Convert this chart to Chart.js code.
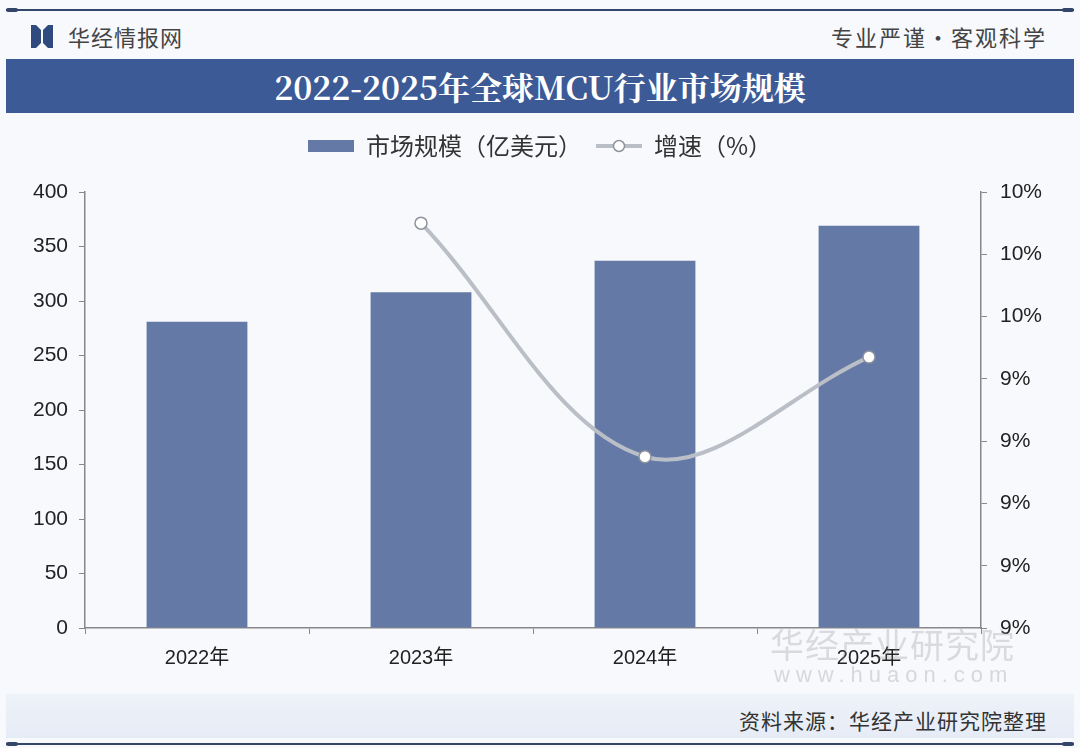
<!DOCTYPE html>
<html>
<head>
<meta charset="utf-8">
<script src="https://cdn.jsdelivr.net/npm/chart.js@4.4.1/dist/chart.umd.min.js"></script>
<style>
  html, body { margin: 0; padding: 0; }
  body { width: 1080px; height: 748px; background: #f7f9fc; font-family: "Noto Sans CJK SC", sans-serif; overflow: hidden; }
  #wrap { position: relative; width: 1080px; height: 748px; }
  .rule { position: absolute; left: 6px; width: 1068px; height: 2px; background: #34456a; }
  .rule::before, .rule::after { content: ''; position: absolute; top: -1px; width: 12px; height: 4px; background: #34456a; border-radius: 2px; }
  .rule::before { left: 0; }
  .rule::after { right: 0; }
  #brand { position: absolute; left: 68px; top: 20px; font-size: 22px; color: #444; letter-spacing: 1px; }
  #motto { position: absolute; right: 33px; top: 20px; font-size: 22px; color: #444; letter-spacing: 2px; }
  #logo { position: absolute; left: 31px; top: 25px; }
  #titlebar { position: absolute; left: 6px; top: 59px; width: 1068px; height: 54px; background: #3c5a96; color: #fff;
    font-family: "Noto Serif CJK SC", "Noto Sans CJK SC", serif; font-weight: bold; font-size: 32px; text-align: center; line-height: 54px; }
  #chartBox { position: absolute; left: 0; top: 120px; width: 1080px; height: 564px; }
  #footer { position: absolute; left: 6px; top: 694px; width: 1068px; height: 44px; background: linear-gradient(#eef2f9, #e6ecf6); }
  #source { position: absolute; right: 33px; top: 705px; font-size: 21px; color: #333; letter-spacing: 1px; }
  #wm1 { position: absolute; left: 770px; top: 619px; font-size: 34px; color: rgba(140,140,140,0.28); letter-spacing: 1px; }
  #wm2 { position: absolute; left: 774px; top: 662px; font-family: "Liberation Sans", sans-serif; font-size: 22px; color: rgba(140,140,140,0.3); letter-spacing: 6px; }
</style>
</head>
<body>
<div id="wrap">
  <div class="rule" style="top:9px"></div>
  <svg id="logo" width="22" height="23" viewBox="0 0 22 23">
    <polygon points="0,0 5,0 10,5 10,18 5,23 0,23" fill="#2f4a7e"/>
    <polygon points="22,0 17,0 12,5 12,18 17,23 22,23" fill="#2f4a7e"/>
  </svg>
  <div id="brand">华经情报网</div>
  <div id="motto">专业严谨•客观科学</div>
  <div id="titlebar">2022-2025年全球MCU行业市场规模</div>
  <div id="chartBox"><canvas id="chart"></canvas></div>
  <div id="footer"></div>
  <div id="source">资料来源：华经产业研究院整理</div>
  <div id="wm1">华经产业研究院</div>
  <div id="wm2">www.huaon.com</div>
  <div class="rule" style="top:743px"></div>
</div>
<script>
const years = ['2022年', '2023年', '2024年', '2025年'];
const marketSize = [281, 308, 337, 369];
const growthRate = [null, 9.9, 9.15, 9.47];
const sizeLabel = '市场规模（亿美元）';
const growthLabel = '增速（%）';

const barColor = '#6479a5';
const lineColor = '#babec6';
const axisColor = '#888';

// legend swatches
function swatch(drawFn) {
  const c = document.createElement('canvas');
  c.width = 46;
  c.height = 16;
  drawFn(c.getContext('2d'));
  return c;
}
const barSwatch = swatch(g => {
  g.fillStyle = barColor;
  g.fillRect(0, 2, 46, 12);
});
const lineSwatch = swatch(g => {
  g.strokeStyle = lineColor;
  g.lineWidth = 4;
  g.beginPath();
  g.moveTo(0, 8);
  g.lineTo(46, 8);
  g.stroke();
  g.beginPath();
  g.arc(23, 8, 5.5, 0, Math.PI * 2);
  g.fillStyle = '#fff';
  g.fill();
  g.lineWidth = 1.5;
  g.strokeStyle = '#8e939c';
  g.stroke();
});

// tick marks only, no grid lines
const tickGrid = { display: true, drawOnChartArea: false, drawTicks: true, tickLength: 6, color: axisColor };

const ctx = document.getElementById('chart').getContext('2d');
new Chart(ctx, {
  data: {
    labels: years,
    datasets: [
      {
        type: 'bar',
        label: sizeLabel,
        data: marketSize,
        backgroundColor: barColor,
        yAxisID: 'y',
        order: 2,
        barPercentage: 0.9,
        categoryPercentage: 0.5
      },
      {
        type: 'line',
        label: growthLabel,
        data: growthRate,
        borderColor: lineColor,
        borderWidth: 4,
        tension: 0.35,
        pointRadius: 6,
        pointBackgroundColor: '#fff',
        pointBorderColor: '#8e939c',
        pointBorderWidth: 1.5,
        yAxisID: 'y1',
        order: 1
      }
    ]
  },
  options: {
    responsive: true,
    maintainAspectRatio: false,
    animation: false,
    plugins: {
      tooltip: { enabled: false },
      legend: {
        position: 'top',
        labels: {
          usePointStyle: true,
          pointStyleWidth: 46,
          boxHeight: 16,
          padding: 14,
          color: '#333',
          font: { family: '"Noto Sans CJK SC", sans-serif', size: 24 },
          generateLabels: () => [
            { text: sizeLabel, pointStyle: barSwatch, datasetIndex: 0, fontColor: '#333', lineWidth: 0 },
            { text: growthLabel, pointStyle: lineSwatch, datasetIndex: 1, fontColor: '#333', lineWidth: 0 }
          ]
        }
      }
    },
    scales: {
      x: {
        offset: true,
        grid: { ...tickGrid, offset: true },
        border: { color: axisColor, width: 1.5 },
        ticks: { color: '#222', font: { family: '"Liberation Sans", "Noto Sans CJK SC", sans-serif', size: 20 }, padding: 12 },
        afterFit: s => { s.height = 56; }
      },
      // empty spacer between legend and plot
      gap: {
        type: 'category',
        position: 'top',
        grid: { display: false },
        border: { display: false },
        ticks: { display: false },
        afterFit: s => { s.height = 24; }
      },
      y: {
        position: 'left',
        min: 0,
        max: 400,
        ticks: { stepSize: 50, color: '#222', font: { family: '"Liberation Sans", sans-serif', size: 21 }, padding: 11 },
        grid: tickGrid,
        border: { color: axisColor, width: 1.5 },
        afterFit: s => { s.width = 85; }
      },
      y1: {
        position: 'right',
        min: 8.6,
        max: 10.0,
        ticks: {
          stepSize: 0.2,
          color: '#222',
          font: { family: '"Liberation Sans", sans-serif', size: 21 },
          padding: 13,
          callback: v => Math.round(v) + '%'
        },
        grid: tickGrid,
        border: { color: axisColor, width: 1.5 },
        afterFit: s => { s.width = 99; }
      }
    }
  }
});
</script>
</body>
</html>
